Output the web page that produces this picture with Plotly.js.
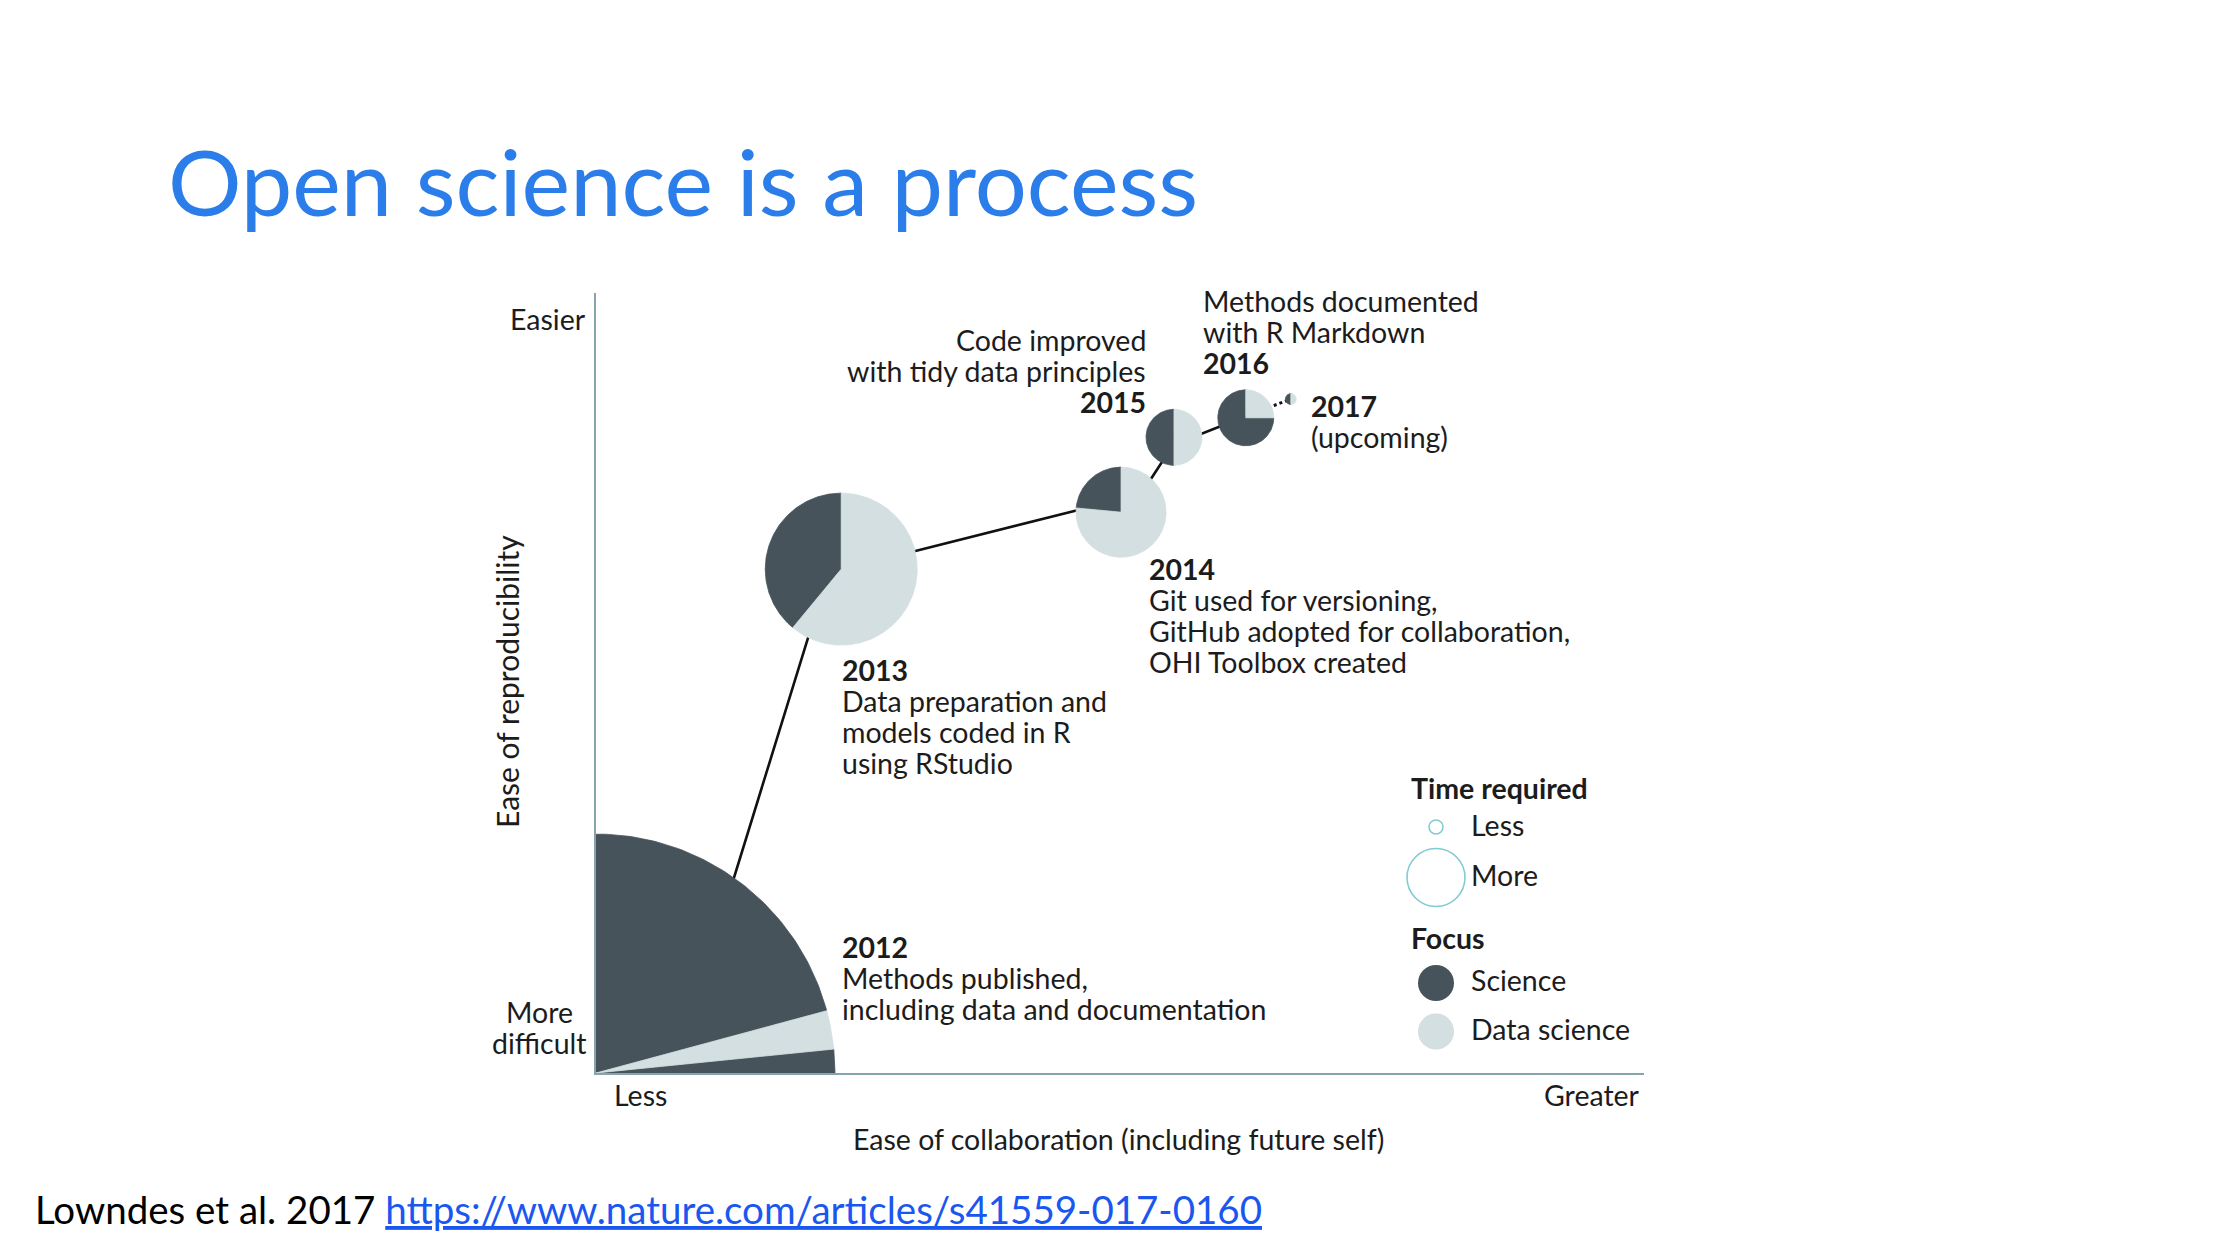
<!DOCTYPE html>
<html>
<head>
<meta charset="utf-8">
<script src="https://cdn.plot.ly/plotly-3.0.1.min.js"></script>
<style>
html,body{margin:0;padding:0;background:#ffffff;}
#chart{width:2240px;height:1260px;}
</style>
</head>
<body>
<div id="chart"></div>
<script>
// ================= DATA =================
const years = ['2012', '2013', '2014', '2015', '2016', '2017'];
// ease of collaboration (x, 0-100) and ease of reproducibility (y, 0-100)
const collaboration   = [0,    23.4, 50.1, 55.15, 62.0, 66.3];
const reproducibility = [0,    64.6, 71.9, 81.5,  84.0, 86.4];
// time required: pie radius, in collaboration-axis units
const timeRequired    = [22.8, 7.25, 4.3,  2.67,  2.67, 0.52];
// share of the pie devoted to "Science" (rest is "Data science")
const scienceShare    = [0.974, 0.39, 0.235, 0.5, 0.75, 0.5];
// angle (deg, counter-clockwise from 3 o'clock) where the Science slice starts
const scienceStart    = [15.1, 90, 90, 90, 90, 90];
// the trajectory linking the years
const pathX     = [9.92, 22.14, 52.0, 55.06, 62.0];
const pathY     = [10.9, 64.1,  74.2, 80.5,  84.2];
const upcomingX = [62.0, 66.3];
const upcomingY = [84.2, 86.4];

const descriptions = {
  '2012': ['Methods published,', 'including data and documentation'],
  '2013': ['Data preparation and', 'models coded in R', 'using RStudio'],
  '2014': ['Git used for versioning,', 'GitHub adopted for collaboration,', 'OHI Toolbox created'],
  '2015': ['Code improved', 'with tidy data principles'],
  '2016': ['Methods documented', 'with R Markdown'],
  '2017': ['(upcoming)']
};

const legendTimeLabels  = ['Less', 'More'];
const legendTimeSizes   = [14, 58];
const legendFocusLabels = ['Science', 'Data science'];

const yTickLabels = ['More<br>difficult', 'Easier'];
const xTickLabels = ['Less', 'Greater'];

// ================= STYLE / LAYOUT =================
const W = 2240, H = 1260;
const L = 596, R = 596, T = 293, B = 187;
const PW = W - L - R, PH = H - T - B;
const X0 = L, Y0 = H - B;             // pixel origin of the axes
const pxPerX = PW / 100, pxPerY = PH / 100;
const FONT = 'Lato, "Open Sans", sans-serif';
const INK = '#1c1c1c';
const DARK = '#46535b';
const LIGHT = '#d3dfe0';
const AXIS = '#86a4ae';
const TEAL = '#4fb6bf';
const FS = 28.5;
const STEP = 31;

function px2dx(px) { return (px - X0) / pxPerX; }
function px2dy(py) { return (Y0 - py) / pxPerY; }

function arc(cx, cy, r, a0, a1) {
  const ry = r * pxPerX / pxPerY;
  const xs = [cx], ys = [cy];
  const n = Math.max(8, Math.ceil(Math.abs(a1 - a0)));
  for (let k = 0; k <= n; k++) {
    const a = (a0 + (a1 - a0) * k / n) * Math.PI / 180;
    xs.push(cx + r * Math.cos(a));
    ys.push(cy + ry * Math.sin(a));
  }
  xs.push(cx); ys.push(cy);
  return {x: xs, y: ys};
}

const traces = [];
// trajectory
traces.push({
  type: 'scatter', mode: 'lines', x: pathX, y: pathY,
  line: {color: '#111111', width: 2.6}, hoverinfo: 'skip', showlegend: false
});
traces.push({
  type: 'scatter', mode: 'lines', x: upcomingX, y: upcomingY,
  line: {color: '#111111', width: 3, dash: 'dot'}, hoverinfo: 'skip', showlegend: false
});
// pies
years.forEach((yr, i) => {
  const a0 = scienceStart[i];
  const a1 = a0 + scienceShare[i] * 360;
  const s = arc(collaboration[i], reproducibility[i], timeRequired[i], a0, a1);
  const d = arc(collaboration[i], reproducibility[i], timeRequired[i], a1, a0 + 360);
  traces.push({type: 'scatter', mode: 'lines', x: s.x, y: s.y, fill: 'toself',
    fillcolor: DARK, line: {color: DARK, width: 0.8}, hoverinfo: 'skip', showlegend: false, name: yr + ' Science'});
  traces.push({type: 'scatter', mode: 'lines', x: d.x, y: d.y, fill: 'toself',
    fillcolor: LIGHT, line: {color: LIGHT, width: 0.8}, hoverinfo: 'skip', showlegend: false, name: yr + ' Data science'});
});
// custom legend glyphs
const legX = px2dx(1436);
traces.push({
  type: 'scatter', mode: 'markers',
  x: [legX, legX], y: [px2dy(827), px2dy(877.5)],
  marker: {size: legendTimeSizes, color: 'rgba(255,255,255,0)', line: {color: TEAL, width: 1.6}},
  hoverinfo: 'skip', showlegend: false, cliponaxis: false
});
traces.push({
  type: 'scatter', mode: 'markers',
  x: [legX, legX], y: [px2dy(983), px2dy(1031.5)],
  marker: {size: 36, color: [DARK, LIGHT], line: {width: 0}},
  hoverinfo: 'skip', showlegend: false, cliponaxis: false
});

// text helper: x in px, baseline in px
function txt(text, xpx, base, o) {
  o = o || {};
  const size = o.size || FS;
  return {
    xref: 'paper', yref: 'paper',
    x: (xpx - L) / PW, y: (Y0 - (base - 0.39 * size)) / PH,
    xanchor: o.anchor || 'left', yanchor: 'middle',
    text: text, showarrow: false, borderpad: 0,
    font: {family: o.family || FONT, size: size, color: o.color || INK, weight: o.weight || 400},
    textangle: o.angle || 0
  };
}
function block(lines, xpx, base, anchor) {
  return lines.map((t, k) => txt(t, xpx, base + k * STEP, {anchor: anchor}));
}
const BOLD = 700;
const ann = [];
// title
ann.push(txt('Open science is a process', 167, 216, {size: 92, color: '#2b7de9'}));
// citation
ann.push(txt('Lowndes et al. 2017 <span style="color:#1a56f0"><u>https://www.nature.com/articles/s41559-017-0160</u></span>',
  34, 1224, {size: 38.5, color: '#000000'}));

// year labels + descriptions
ann.push(txt(years[0], 841, 958, {weight: BOLD}));
ann.push(...block(descriptions['2012'], 841, 958 + STEP, 'left'));
ann.push(txt(years[1], 841, 681, {weight: BOLD}));
ann.push(...block(descriptions['2013'], 841, 681 + STEP, 'left'));
ann.push(txt(years[2], 1148, 580, {weight: BOLD}));
ann.push(...block(descriptions['2014'], 1148, 580 + STEP, 'left'));
ann.push(...block(descriptions['2015'], 1147, 351, 'right'));
ann.push(txt(years[3], 1147, 351 + 2 * STEP, {anchor: 'right', weight: BOLD}));
ann.push(...block(descriptions['2016'], 1202, 312, 'left'));
ann.push(txt(years[4], 1202, 312 + 2 * STEP, {weight: BOLD}));
ann.push(txt(years[5], 1310, 417.5, {weight: BOLD}));
ann.push(txt(descriptions['2017'][0], 1310, 417.5 + STEP));

// legend text
ann.push(txt('Time required', 1410, 799, {weight: BOLD}));
ann.push(txt(legendTimeLabels[0], 1470, 836));
ann.push(txt(legendTimeLabels[1], 1470, 886.5));
ann.push(txt('Focus', 1410, 949, {weight: BOLD}));
ann.push(txt(legendFocusLabels[0], 1470, 991));
ann.push(txt(legendFocusLabels[1], 1470, 1040.5));

// axis end labels
ann.push(txt(yTickLabels[1], 587, 330, {anchor: 'right'}));
const md = yTickLabels[0].split('<br>');
ann.push(txt(md[0], 539, 1023, {anchor: 'center'}));
ann.push(txt(md[1], 539, 1023 + STEP, {anchor: 'center'}));
ann.push(txt(xTickLabels[0], 613, 1106));
ann.push(txt(xTickLabels[1], 1641, 1106, {anchor: 'right'}));
// axis titles
ann.push(txt('Ease of collaboration (including future self)', 1118, 1150, {anchor: 'center'}));
ann.push({
  xref: 'paper', yref: 'paper', x: (507 - L) / PW, y: (Y0 - 682) / PH,
  xanchor: 'center', yanchor: 'middle', textangle: -90, showarrow: false,
  text: 'Ease of reproducibility', font: {family: FONT, size: 30, color: INK}
});

const layout = {
  width: W, height: H,
  margin: {l: L, r: R, t: T, b: B, pad: 0},
  paper_bgcolor: '#ffffff', plot_bgcolor: '#ffffff',
  showlegend: false,
  xaxis: {range: [0, 100], showgrid: false, zeroline: false, showticklabels: false, ticks: '',
    showline: true, linecolor: AXIS, linewidth: 2, fixedrange: true, layer: 'above traces'},
  yaxis: {range: [0, 100], showgrid: false, zeroline: false, showticklabels: false, ticks: '',
    showline: true, linecolor: AXIS, linewidth: 2, fixedrange: true, layer: 'above traces'},
  annotations: ann
};

Plotly.newPlot('chart', traces, layout, {displayModeBar: false, staticPlot: true});
</script>
</body>
</html>
